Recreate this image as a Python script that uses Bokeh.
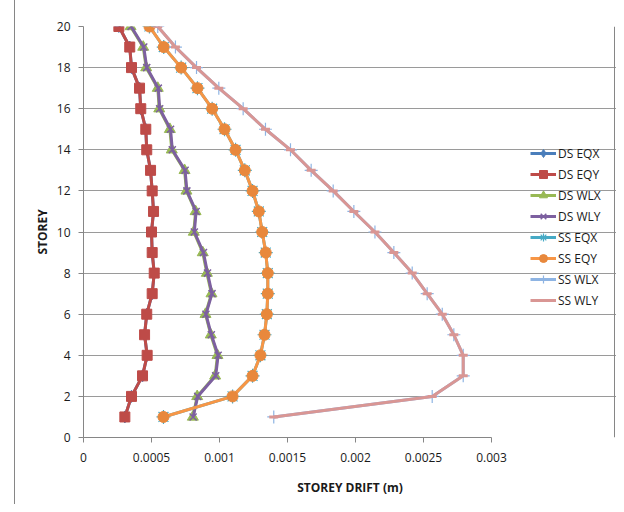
from bokeh.plotting import figure
from bokeh.models import Range1d, FixedTicker, Legend, LegendItem, Span, Div
from bokeh.layouts import row
from bokeh.embed import file_html
from bokeh.resources import INLINE

storey = list(range(1, 21))

ds_eqy = [0.000304, 0.000353, 0.000434, 0.000468, 0.000449, 0.000465, 0.000505, 0.00052, 0.000505, 0.0005,
          0.000515, 0.000505, 0.000493, 0.000465, 0.000458, 0.000421, 0.000412, 0.000353, 0.00034, 0.00026]
ds_eqx = list(ds_eqy)
ds_wlx = [0.000804, 0.000836, 0.000968, 0.000985, 0.000936, 0.000897, 0.000941, 0.000907, 0.000877, 0.000811,
          0.000824, 0.000757, 0.000743, 0.000649, 0.000635, 0.000557, 0.000546, 0.000461, 0.000439, 0.000346]
ds_wly = [0.000806, 0.000840, 0.000972, 0.000990, 0.000940, 0.000900, 0.000945, 0.000912, 0.000882, 0.000815,
          0.000828, 0.000760, 0.000747, 0.000653, 0.000640, 0.000560, 0.000550, 0.000465, 0.000443, 0.000350]
ss_eqy = [0.000588, 0.001096, 0.001243, 0.001301, 0.001331, 0.001348, 0.001355, 0.001355, 0.00134, 0.001314,
          0.001289, 0.001243, 0.001186, 0.001118, 0.001037, 0.000946, 0.000838, 0.000718, 0.00059, 0.000485]
ss_eqx = list(ss_eqy)
ss_wlx = [0.001399, 0.002564, 0.002792, 0.002792, 0.002723, 0.002638, 0.002527, 0.002417, 0.002282, 0.002143,
          0.001988, 0.001836, 0.001674, 0.001522, 0.001338, 0.001174, 0.000995, 0.000831, 0.000676, 0.000546]
ss_wly = list(ss_wlx)

x_ticks = [0, 0.0005, 0.001, 0.0015, 0.002, 0.0025, 0.003]
x_tick_labels = ["0", "0.0005", "0.001", "0.0015", "0.002", "0.0025", "0.003"]
y_ticks = [0, 2, 4, 6, 8, 10, 12, 14, 16, 18, 20]

FONT = "Open Sans"

# layout (page pixels): left border at 14, plot area 83..491 holds 0..0.003,
# frame extended to the right so the legend is not clipped
PAD = 15
LEFT, AXIS_END, FIG_RIGHT = 83, 491, 616
X_MAX = x_ticks[-1]
x_end = X_MAX * (FIG_RIGHT - LEFT) / (AXIS_END - LEFT)

p = figure(width=FIG_RIGHT - PAD, height=504, output_backend="svg", toolbar_location=None,
           x_range=Range1d(0, x_end), y_range=Range1d(0, 20),
           min_border_left=LEFT - PAD, min_border_right=0, min_border_top=26, min_border_bottom=67)
p.outline_line_color = None
p.background_fill_color = None
p.border_fill_color = None

# axes
p.xaxis.ticker = FixedTicker(ticks=x_ticks)
p.xaxis.major_label_overrides = {t: l for t, l in zip(x_ticks, x_tick_labels)}
p.xaxis.bounds = (0, X_MAX)
p.yaxis.ticker = FixedTicker(ticks=y_ticks)
for ax in (p.xaxis[0], p.yaxis[0]):
    ax.axis_line_color = "#868686"
    ax.major_tick_line_color = "#868686"
    ax.minor_tick_line_color = None
    ax.major_tick_in = 0
    ax.major_tick_out = 5
    ax.major_label_text_font = FONT
    ax.major_label_text_font_size = "12px"
    ax.major_label_text_color = "#1a1a1a"
    ax.axis_label_text_font = FONT
    ax.axis_label_text_font_size = "12px"
    ax.axis_label_text_font_style = "bold"
    ax.axis_label_text_color = "#1a1a1a"
p.xaxis.axis_label = "STOREY DRIFT (m)"
p.yaxis.axis_label = "STOREY"
p.xaxis.major_label_standoff = 10
p.xaxis.axis_label_standoff = 14
p.yaxis.major_label_standoff = 8
p.yaxis.axis_label_standoff = 3
p.xgrid.grid_line_color = None
p.ygrid.grid_line_color = "#9a9a9a"
p.ygrid.grid_line_width = 1
p.ygrid.bounds = (0, X_MAX)

# right edge of chart border
p.add_layout(Span(location=x_end * (614 - LEFT) / (FIG_RIGHT - LEFT), dimension="height",
                  line_color="#868686", line_width=1))

LW = 3
items = []

def series(xs, color, marker, size, name, mcolor=None, mline=1, fill=True):
    mcolor = mcolor or color
    l = p.line(xs, storey, line_color=color, line_width=LW)
    s = p.scatter(xs, storey, marker=marker, size=size, line_color=mcolor,
                  fill_color=mcolor if fill else None, line_width=mline)
    items.append(LegendItem(label=name, renderers=[l, s]))

series(ds_eqx, "#4A7EBB", "diamond", 12, "DS EQX")
series(ds_eqy, "#BE4B48", "square", 10, "DS EQY")
series(ds_wlx, "#98B954", "triangle", 11, "DS WLX")
series(ds_wly, "#7D60A0", "x", 10, "DS WLY", mline=1.5, fill=False)
series(ss_eqx, "#46AAC5", "asterisk", 14, "SS EQX", mline=1.2, fill=False)
series(ss_eqy, "#F79646", "circle", 11, "SS EQY", mcolor="#E8883C")
series(ss_wlx, "#8EB4E3", "cross", 13, "SS WLX", mline=1.2, fill=False)
series(ss_wly, "#D99694", "dash", 9, "SS WLY", mline=3, fill=False)

legend = Legend(items=items, location=(447, 127), orientation="vertical",
                glyph_width=26, glyph_height=20, label_height=20, spacing=1,
                padding=0, margin=0, label_standoff=2,
                label_text_font=FONT, label_text_font_size="12px",
                label_text_color="#1a1a1a",
                border_line_color=None, background_fill_alpha=0)
p.add_layout(legend)

edge = Div(text="", width=PAD, height=504, margin=0,
           styles={"border-right": "1px solid #868686", "box-sizing": "border-box",
                   "height": "504px"})
layout = row(edge, p, spacing=0)

open("out.html", "w").write(file_html(layout, INLINE))
